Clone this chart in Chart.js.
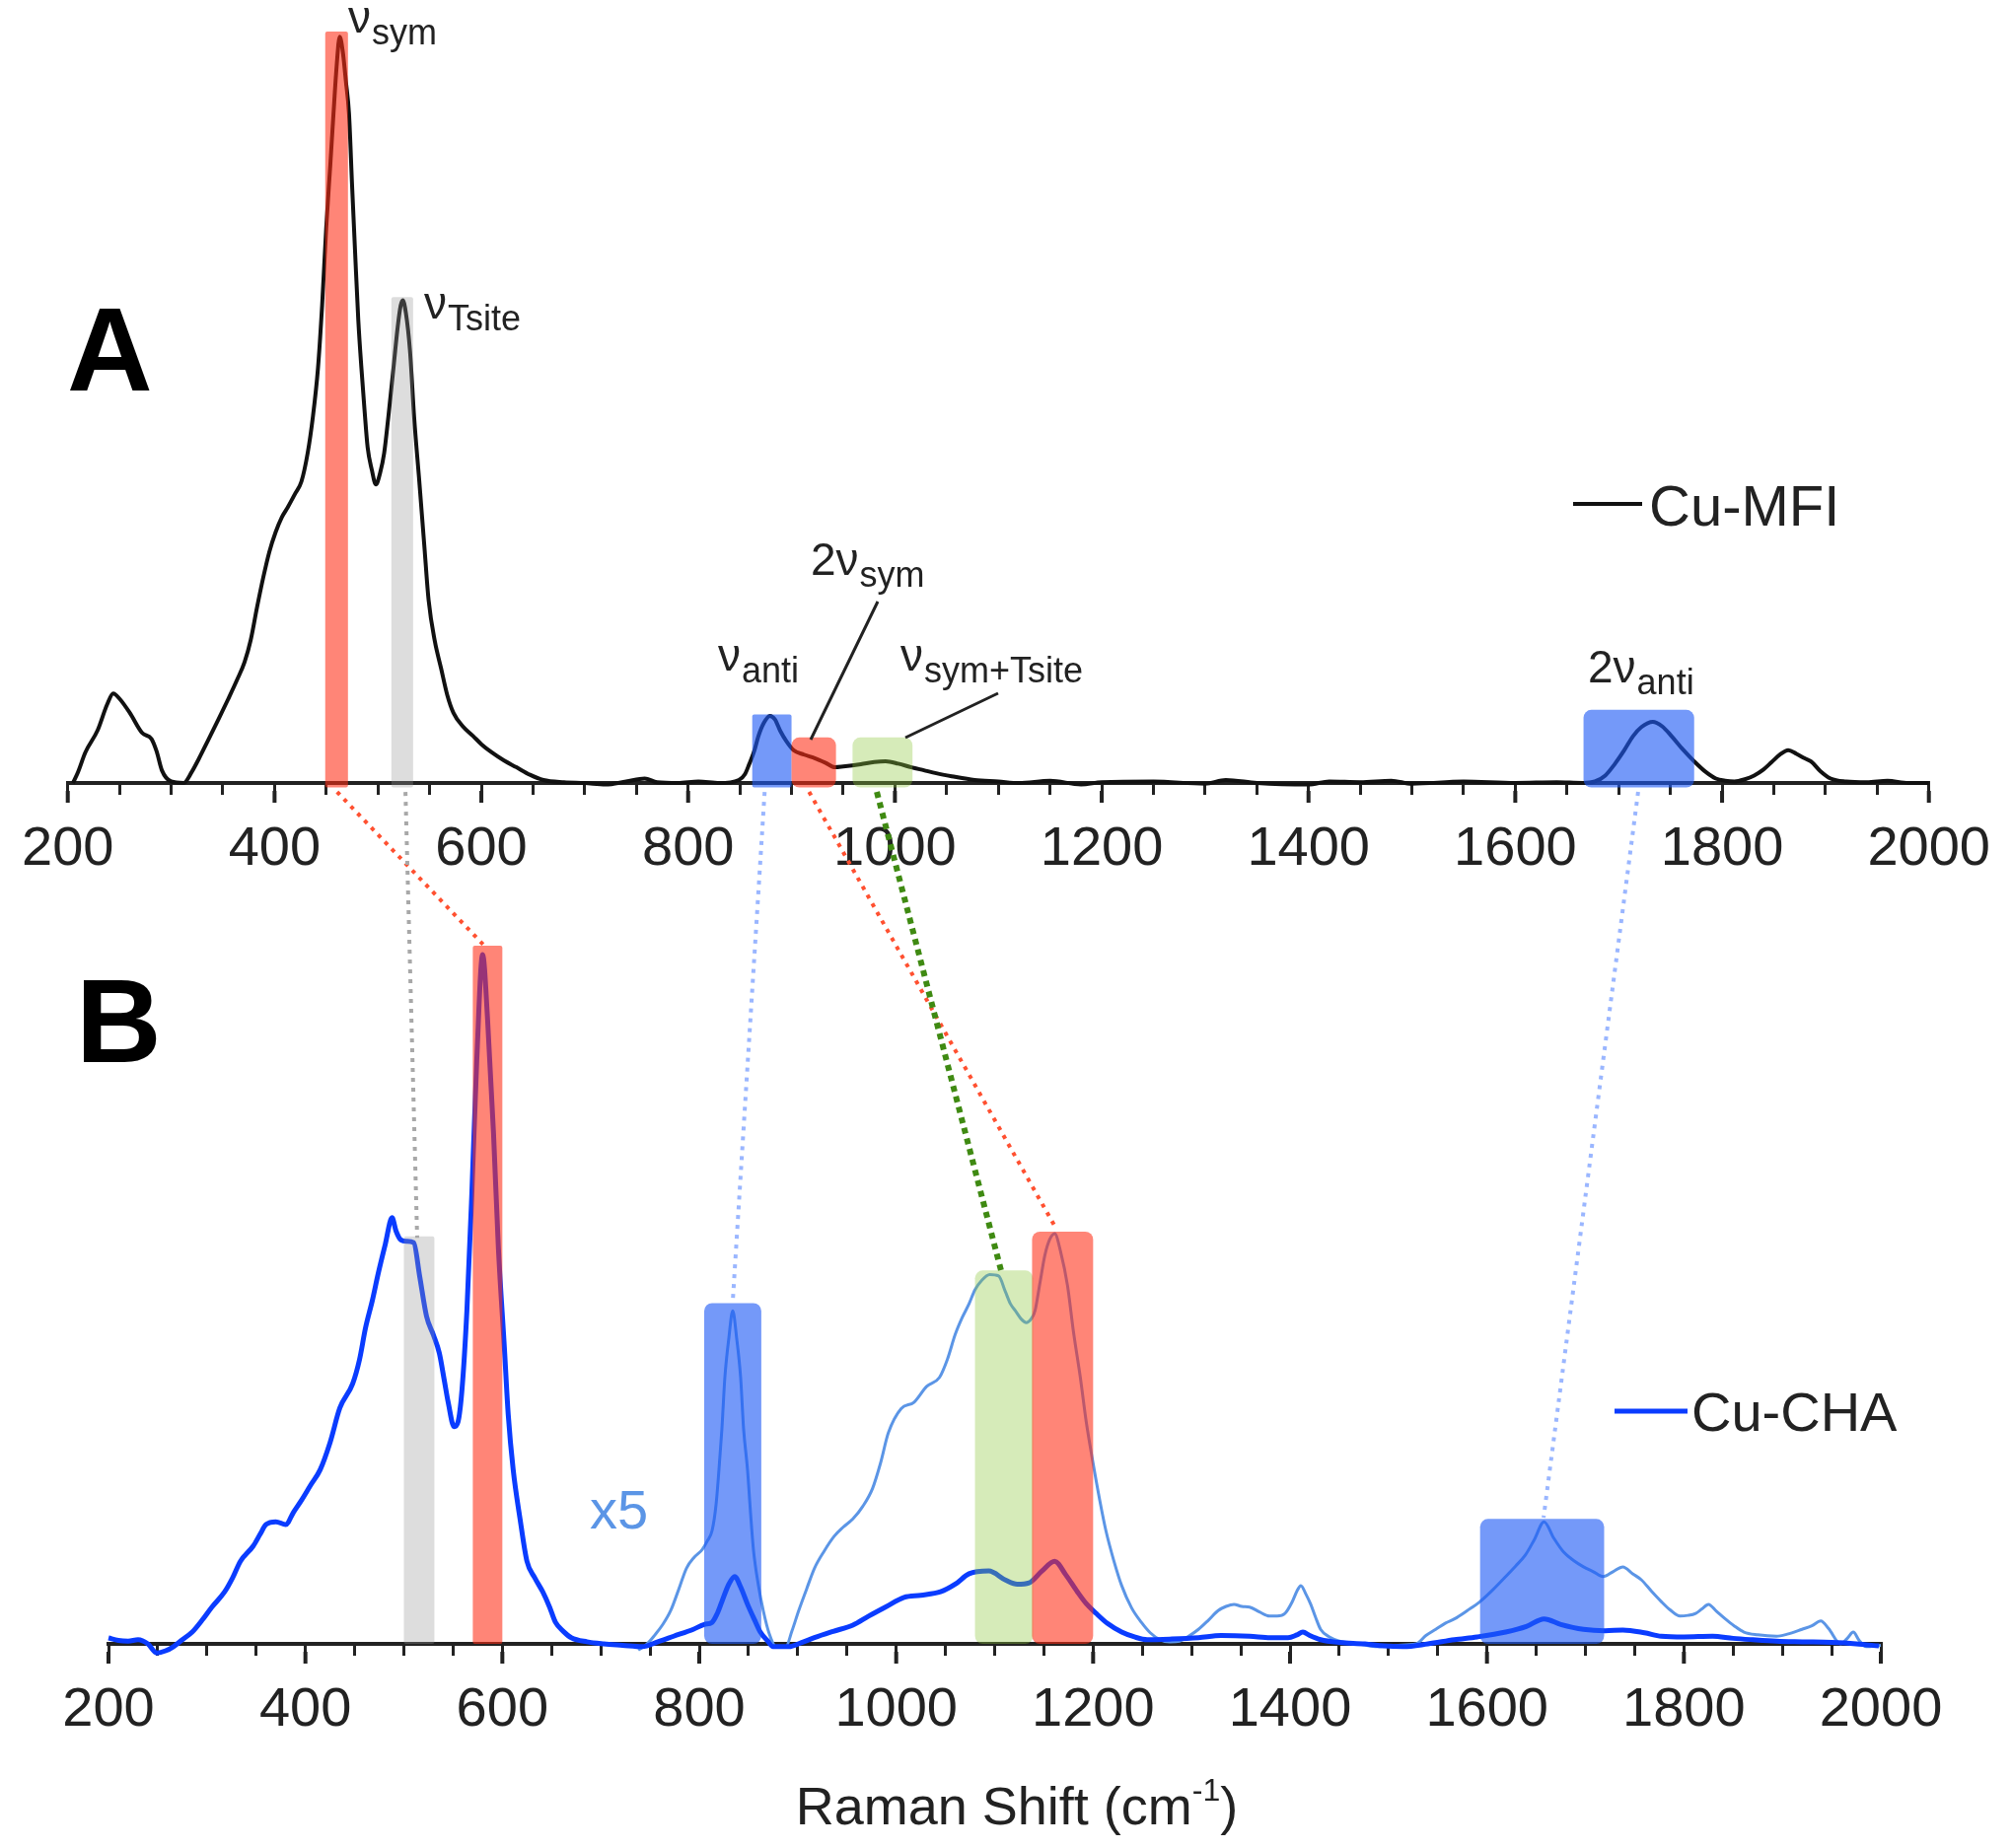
<!DOCTYPE html>
<html>
<head>
<meta charset="utf-8">
<script src="https://cdn.jsdelivr.net/npm/chart.js@4.4.1/dist/chart.umd.min.js"></script>
<style>
  body { margin: 0; background: #fff; }
  #wrap { position: relative; width: 2040px; height: 1874px; }
  canvas { position: absolute; left: 0; top: 0; }
</style>
</head>
<body>
<div id="wrap">
  <canvas id="chartA" width="2040" height="1874"></canvas>
  <canvas id="chartB" width="2040" height="1874"></canvas>
</div>
<script>
// Panel A: Cu-MFI
const mfiShift = [205, 210, 217, 229, 238, 244, 250, 260, 272, 281, 286, 291, 300, 312, 320, 327, 336, 346, 355, 364,
  371, 377, 383, 389, 395, 401, 407, 413, 420, 426, 432, 437, 442, 446, 450, 454, 457, 460, 463, 466,
  469, 472, 475, 478, 481, 484, 487, 490, 494, 498, 502, 506, 510, 515, 519, 522, 524, 527, 531, 535,
  540, 545, 549, 555, 561, 567, 573, 582, 592, 600, 610, 622, 634, 647, 660, 680, 700, 720, 740, 758,
  770, 790, 810, 830, 849, 855, 859, 864, 868, 873, 879, 884, 889, 895, 902, 912, 923, 933, 942, 950,
  967, 980, 991, 1003, 1016, 1028, 1040, 1055, 1077, 1100, 1120, 1150, 1180, 1200, 1250, 1300, 1320, 1350, 1400, 1420,
  1450, 1480, 1500, 1550, 1600, 1640, 1665, 1677, 1687, 1696, 1705, 1714, 1722, 1733, 1742, 1751, 1762, 1773, 1784, 1794,
  1803, 1812, 1822, 1831, 1840, 1848, 1856, 1864, 1872, 1880, 1886, 1895, 1905, 1920, 1940, 1960, 1980, 2000];
const mfiIntensity = [0, 1.5, 4.1, 7.1, 10.5, 12.0, 11.3, 9.4, 6.7, 5.9, 4.2, 1.7, 0.2, 0, 1.5, 3.3, 5.8, 8.6, 11.2, 13.9,
  16.2, 19.2, 23.5, 27.5, 31.0, 33.6, 35.6, 37.0, 38.8, 40.4, 44.2, 49, 55.6, 64, 74.5, 83, 89.7, 96, 100, 98,
  94, 89.7, 80, 70.8, 62, 55.6, 50, 45, 42, 40, 41.5, 44.2, 49, 55.6, 61, 64, 64.7, 63, 57.9, 49,
  40.4, 31.5, 24.5, 19, 15.4, 11.8, 9.4, 7.6, 6.3, 5.2, 4.1, 3.0, 2.1, 1.1, 0.4, 0.1, 0, -0.2, 0.2, 0.6,
  0.1, 0, 0.2, 0, 0.4, 1.2, 2.5, 4.3, 6.3, 8.0, 9.0, 8.5, 7.0, 5.6, 4.4, 3.8, 3.3, 2.7, 2.1, 2.2,
  2.5, 2.8, 2.9, 2.6, 2.1, 1.7, 1.3, 0.9, 0.4, 0.2, 0, 0.3, -0.2, 0.1, 0.2, -0.1, 0.4, 0, -0.2, 0.2,
  0.1, 0.3, -0.1, 0.2, 0, 0.1, 0, 0.2, 1.0, 2.5, 4.3, 6.3, 7.5, 8.2, 7.6, 6.3, 4.5, 2.9, 1.5, 0.6,
  0.3, 0.2, 0.5, 1.0, 1.8, 2.8, 3.8, 4.4, 3.9, 3.3, 2.9, 1.6, 0.6, 0.2, 0.1, 0.3, 0, 0];

// Panel B: Cu-CHA
const chaShift = [200, 210, 220, 230, 240, 249, 258, 266, 275, 285, 295, 305, 318, 326, 334, 347, 354, 360, 370, 380,
  388, 396, 405, 415, 425, 435, 448, 455, 461, 468, 474, 481, 488, 492, 497, 503, 510, 516, 523, 530,
  536, 541, 545, 551, 555, 559, 564, 569, 574, 580, 585, 591, 596, 602, 606, 611, 618, 625, 633, 641,
  648, 654, 662, 670, 686, 703, 722, 742, 758, 774, 794, 805, 813, 818, 823, 830, 836, 842, 849, 856,
  862, 869, 875, 891, 904, 917, 936, 956, 972, 989, 1008, 1025, 1045, 1060, 1074, 1094, 1111, 1123, 1135, 1148,
  1161, 1172, 1184, 1193, 1203, 1215, 1229, 1242, 1255, 1280, 1307, 1330, 1359, 1380, 1398, 1407, 1413, 1420, 1431, 1450,
  1476, 1495, 1515, 1540, 1567, 1590, 1619, 1640, 1658, 1675, 1698, 1720, 1738, 1760, 1777, 1800, 1829, 1850, 1870, 1894,
  1920, 1950, 1975, 1998];
const chaIntensity = [0.85, 0.5, 0.4, 0.6, 0, -1.3, -1.0, -0.4, 0.6, 1.7, 3.4, 5.3, 7.5, 9.5, 11.9, 14.1, 15.8, 17.2, 17.6, 17.2,
  19, 20.7, 22.8, 25.1, 29, 34, 37.5, 41, 45.5, 49.5, 53.4, 57.5, 61.4, 59.5, 58.2, 58.0, 57.8, 53, 47.2, 44.5,
  41.9, 38, 34.8, 31.3, 32, 36.6, 48, 64.8, 84, 99.3, 90, 73.7, 57, 42.8, 33, 25.1, 18, 11.9, 9.5, 7.5,
  5.3, 3.1, 1.8, 0.9, 0.3, 0, -0.2, -0.4, 0.3, 1.1, 2.1, 2.8, 3.1, 4.3, 6.1, 8.6, 9.7, 8.2, 5.7, 3.5,
  1.7, 0.5, -0.4, -0.4, 0.2, 0.9, 1.8, 2.7, 4.0, 5.3, 6.7, 7.0, 7.5, 8.6, 10.1, 10.5, 9.2, 8.6, 8.8, 10.5,
  11.9, 10.0, 7.5, 5.8, 4.4, 2.9, 1.7, 1.0, 0.6, 0.7, 0.9, 1.2, 1.1, 0.9, 0.9, 1.3, 1.7, 1.2, 0.6, 0.2,
  0, -0.3, -0.4, 0, 0.6, 1.0, 1.7, 2.5, 3.6, 2.8, 2.1, 1.9, 2.0, 1.6, 1.1, 1.0, 1.1, 0.8, 0.6, 0.4,
  0.3, 0.2, 0, -0.3];

// Panel B: x5 trace
const x5Shift = [738, 747, 755, 763, 771, 779, 787, 795, 803, 808, 813, 817, 820, 823, 826, 830, 834, 838, 842, 845,
  849, 852, 855, 860, 865, 871, 878, 888, 894, 901, 909, 917, 927, 937, 946, 956, 966, 976, 984, 992,
  1005, 1018, 1031, 1044, 1052, 1060, 1067, 1074, 1080, 1087, 1095, 1104, 1111, 1116, 1121, 1127, 1132, 1137, 1141, 1146,
  1151, 1156, 1161, 1167, 1174, 1180, 1187, 1193, 1200, 1207, 1213, 1221, 1229, 1239, 1249, 1258, 1268, 1278, 1288, 1297,
  1307, 1317, 1327, 1335, 1343, 1351, 1359, 1369, 1379, 1387, 1395, 1402, 1407, 1411, 1416, 1421, 1426, 1431, 1440, 1450,
  1470, 1489, 1510, 1528, 1538, 1548, 1558, 1567, 1580, 1593, 1606, 1619, 1629, 1639, 1648, 1658, 1668, 1678, 1688, 1698,
  1708, 1718, 1728, 1738, 1748, 1757, 1767, 1777, 1786, 1796, 1804, 1812, 1818, 1825, 1833, 1842, 1851, 1861, 1875, 1894,
  1905, 1920, 1930, 1939, 1947, 1959, 1966, 1972, 1978, 1985, 2000];
const x5Intensity = [-0.9, 0, 1.3, 2.8, 4.8, 7.8, 10.9, 12.5, 13.6, 14.8, 16.3, 20, 25.1, 31, 38.4, 44, 48.0, 44, 38.4, 31,
  25.1, 19, 13.6, 8.5, 4.8, 1.5, -0.4, -0.4, 1.8, 4.8, 7.9, 10.9, 13.4, 15.5, 16.8, 18.0, 19.8, 22.4, 26, 30.4,
  33.9, 34.8, 37.1, 38.4, 41, 44.6, 47, 49.0, 51, 52.4, 53.2, 53.0, 50.7, 49, 48, 46.8, 46.3, 46.8, 48, 52,
  56, 58.3, 59.1, 56.5, 51.6, 45, 38.4, 32, 26, 20.5, 16.3, 12, 8.4, 5.2, 3.1, 1.6, 0.6, 0.3, 0.4, 1.1,
  2.1, 3.4, 4.8, 5.4, 5.7, 5.4, 5.3, 4.6, 4.0, 4.0, 4.4, 6, 7.6, 8.4, 7.2, 5.7, 3.8, 2.1, 1.0, 0.4,
  0, -0.4, -0.2, 0, 1.2, 2.1, 3.0, 3.6, 4.8, 6.1, 7.8, 9.7, 11.2, 12.8, 15.0, 17.6, 15.2, 13.2, 12.0, 11.1,
  10.4, 9.7, 10.4, 11.1, 10.1, 9.2, 7.6, 6.1, 4.9, 4.0, 4.1, 4.4, 5.0, 5.7, 4.7, 3.6, 2.6, 1.7, 1.3, 1.1,
  1.4, 2.1, 2.6, 3.3, 2.2, 0, 0.8, 1.7, 0.5, -0.4, -0.2];

const tickValues = [200, 400, 600, 800, 1000, 1200, 1400, 1600, 1800, 2000];

// highlighted bands: start, end, top (intensity), kind
const bandAStart = [449, 513, 862, 900, 959, 1666];
const bandAEnd = [471, 534, 900, 943, 1017, 1773];
const bandATop = [100.7, 65.1, 9.2, 6.1, 6.1, 9.8];
const bandAKind = ['red', 'grey', 'blue', 'red', 'green', 'blue'];

const bandBStart = [500, 570, 805, 1080, 1138, 1593];
const bandBEnd = [531, 600, 863, 1139, 1200, 1719];
const bandBTop = [58.7, 100.6, 49.1, 53.8, 59.4, 18.0];
const bandBKind = ['grey', 'red', 'blue', 'green', 'red', 'blue'];

// dotted links: shift in A -> shift/intensity in B
const linkAShift = [460.5, 526.6, 874, 917, 982.5, 1718.8];
const linkBShift = [583, 513.5, 834, 1162.6, 1106.5, 1657.5];
const linkBTop = [100.4, 58.5, 49.3, 59.8, 53.8, 18.2];
const linkKind = ['red', 'grey', 'blue', 'red', 'green', 'blue'];

const FONT = "'Liberation Sans', Arial, sans-serif";
const TEXT = '#222';

const bandColors = {
    red: 'rgba(255, 45, 20, 0.58)',
    grey: 'rgba(150, 150, 150, 0.32)',
    blue: 'rgba(30, 90, 245, 0.62)',
    green: 'rgba(140, 200, 60, 0.36)'
};
const linkColors = { red: '#ff5030', grey: '#a8a8a8', blue: '#9ab6ff', green: '#3f8a12' };

function toPoints(xs, ys) {
    return xs.map((x, i) => ({ x: x, y: ys[i] }));
}

function xAxis() {
    return {
        type: 'linear',
        min: 200,
        max: 2000,
        afterFit: (scale) => { scale.height = 100; },
        border: { display: true, color: TEXT, width: 4 },
        grid: { drawOnChartArea: false, drawTicks: true, tickLength: 12, color: TEXT, lineWidth: 3 },
        ticks: {
            stepSize: 50,
            autoSkip: false,
            maxRotation: 0,
            padding: 22,
            color: TEXT,
            font: { size: 56, family: FONT },
            callback: (v) => tickValues.includes(v) ? String(v) : ''
        }
    };
}

// labelled ticks are a bit longer than the minor ones
function longTicks(chart) {
    const ctx = chart.ctx;
    const xs = chart.scales.x;
    const y0 = chart.chartArea.bottom;
    ctx.save();
    ctx.strokeStyle = TEXT;
    ctx.lineWidth = 4;
    ctx.beginPath();
    tickValues.forEach((v) => {
        const px = xs.getPixelForValue(v);
        ctx.moveTo(px, y0 + 8);
        ctx.lineTo(px, y0 + 20);
    });
    ctx.stroke();
    ctx.restore();
}

function drawBands(chart, starts, ends, tops, kinds, bottom) {
    const ctx = chart.ctx;
    const xs = chart.scales.x, ys = chart.scales.y;
    ctx.save();
    for (let i = 0; i < starts.length; i++) {
        const x1 = xs.getPixelForValue(starts[i]);
        const x2 = xs.getPixelForValue(ends[i]);
        const y1 = ys.getPixelForValue(tops[i]);
        const y2 = ys.getPixelForValue(bottom);
        const r = (x2 - x1) > 40 ? 8 : 2;
        ctx.fillStyle = bandColors[kinds[i]];
        ctx.beginPath();
        ctx.roundRect(x1, y1, x2 - x1, y2 - y1, r);
        ctx.fill();
    }
    ctx.restore();
}

function subText(ctx, x, y, main, sub, mainSize, subSize, drop) {
    ctx.font = mainSize + 'px ' + FONT;
    ctx.fillText(main, x, y);
    const w = ctx.measureText(main).width;
    ctx.font = subSize + 'px ' + FONT;
    ctx.fillText(sub, x + w + 1, y + drop);
}

const bandsAPlugin = {
    id: 'bandsA',
    afterDatasetsDraw(chart) {
        drawBands(chart, bandAStart, bandAEnd, bandATop, bandAKind, -0.6);
    },
    afterDraw(chart) {
        longTicks(chart);
        const ctx = chart.ctx;
        ctx.save();
        ctx.textBaseline = 'alphabetic';
        ctx.font = 'bold 120px ' + FONT;
        ctx.fillStyle = '#000';
        ctx.fillText('A', 68, 396);
        ctx.fillStyle = TEXT;
        subText(ctx, 353, 33, 'ν', 'sym', 46, 36, 12);
        subText(ctx, 430, 323, 'ν', 'Tsite', 46, 36, 12);
        subText(ctx, 822, 583, '2ν', 'sym', 46, 36, 12);
        subText(ctx, 728, 680, 'ν', 'anti', 46, 36, 12);
        subText(ctx, 913, 680, 'ν', 'sym+Tsite', 46, 36, 12);
        subText(ctx, 1610, 692, '2ν', 'anti', 46, 36, 12);
        // leader lines
        ctx.strokeStyle = TEXT;
        ctx.lineWidth = 3;
        ctx.beginPath();
        ctx.moveTo(890, 610); ctx.lineTo(822, 750);
        ctx.moveTo(1012, 703); ctx.lineTo(918, 748);
        ctx.stroke();
        // legend
        const ds = chart.data.datasets[0];
        ctx.strokeStyle = ds.borderColor;
        ctx.lineWidth = 4;
        ctx.beginPath();
        ctx.moveTo(1595, 511); ctx.lineTo(1665, 511);
        ctx.stroke();
        ctx.font = '58px ' + FONT;
        ctx.fillText(ds.label, 1672, 533);
        ctx.restore();
    }
};

const chartA = new Chart(document.getElementById('chartA'), {
    type: 'line',
    data: {
        datasets: [{
            label: 'Cu-MFI',
            data: toPoints(mfiShift, mfiIntensity),
            borderColor: '#111',
            borderWidth: 4,
            pointRadius: 0,
            cubicInterpolationMode: 'monotone',
            clip: false
        }]
    },
    options: {
        responsive: false,
        animation: false,
        layout: { padding: { left: 60, right: 73, top: 7, bottom: 980 } },
        plugins: { legend: { display: false }, tooltip: { enabled: false } },
        scales: {
            x: xAxis(),
            y: { display: false, min: 0, max: 104 }
        }
    },
    plugins: [bandsAPlugin]
});

const bandsBPlugin = {
    id: 'bandsB',
    afterDatasetsDraw(chart) {
        drawBands(chart, bandBStart, bandBEnd, bandBTop, bandBKind, 0);
    },
    afterDraw(chart) {
        longTicks(chart);
        const ctx = chart.ctx;
        ctx.save();
        // dotted links from panel A to panel B
        for (let i = 0; i < linkAShift.length; i++) {
            const ax = chartA.scales.x.getPixelForValue(linkAShift[i]);
            const ay = chartA.scales.y.getPixelForValue(-1.2);
            const bx = chart.scales.x.getPixelForValue(linkBShift[i]);
            const by = chart.scales.y.getPixelForValue(linkBTop[i]);
            ctx.strokeStyle = linkColors[linkKind[i]];
            ctx.lineWidth = linkKind[i] === 'green' ? 6 : 4;
            ctx.setLineDash(linkKind[i] === 'green' ? [6, 5] : [4, 6]);
            ctx.beginPath();
            ctx.moveTo(ax, ay);
            ctx.lineTo(bx, by);
            ctx.stroke();
        }
        ctx.setLineDash([]);
        ctx.textBaseline = 'alphabetic';
        ctx.font = 'bold 120px ' + FONT;
        ctx.fillStyle = '#000';
        ctx.fillText('B', 77, 1077);
        // x5 tag
        ctx.font = '56px ' + FONT;
        ctx.fillStyle = chart.data.datasets[1].borderColor;
        ctx.fillText('x5', 598, 1550);
        // legend
        const ds = chart.data.datasets[0];
        ctx.strokeStyle = ds.borderColor;
        ctx.lineWidth = 5;
        ctx.beginPath();
        ctx.moveTo(1637, 1431); ctx.lineTo(1711, 1431);
        ctx.stroke();
        ctx.fillStyle = TEXT;
        ctx.fillText(ds.label, 1715, 1451);
        // axis title with superscript
        const main = 'Raman Shift (cm', sup = '-1', end = ')';
        ctx.font = '54px ' + FONT;
        const w1 = ctx.measureText(main).width, w3 = ctx.measureText(end).width;
        ctx.font = '32px ' + FONT;
        const w2 = ctx.measureText(sup).width;
        let x = 1031 - (w1 + w2 + w3) / 2;
        ctx.font = '54px ' + FONT;
        ctx.fillText(main, x, 1850);
        ctx.font = '32px ' + FONT;
        ctx.fillText(sup, x + w1, 1826);
        ctx.font = '54px ' + FONT;
        ctx.fillText(end, x + w1 + w2, 1850);
        ctx.restore();
    }
};

const chartB = new Chart(document.getElementById('chartB'), {
    type: 'line',
    data: {
        datasets: [{
            label: 'Cu-CHA',
            data: toPoints(chaShift, chaIntensity),
            borderColor: '#0a3cff',
            borderWidth: 5,
            pointRadius: 0,
            cubicInterpolationMode: 'monotone',
            clip: false,
            order: 1
        }, {
            label: 'Cu-CHA x5',
            data: toPoints(x5Shift, x5Intensity),
            borderColor: '#5b95e6',
            borderWidth: 3,
            pointRadius: 0,
            cubicInterpolationMode: 'monotone',
            clip: false,
            order: 2
        }]
    },
    options: {
        responsive: false,
        animation: false,
        layout: { padding: { left: 110, right: 133, top: 928, bottom: 107 } },
        plugins: { legend: { display: false }, tooltip: { enabled: false } },
        scales: {
            x: xAxis(),
            y: { display: false, min: 0, max: 105 }
        }
    },
    plugins: [bandsBPlugin]
});
</script>
</body>
</html>
